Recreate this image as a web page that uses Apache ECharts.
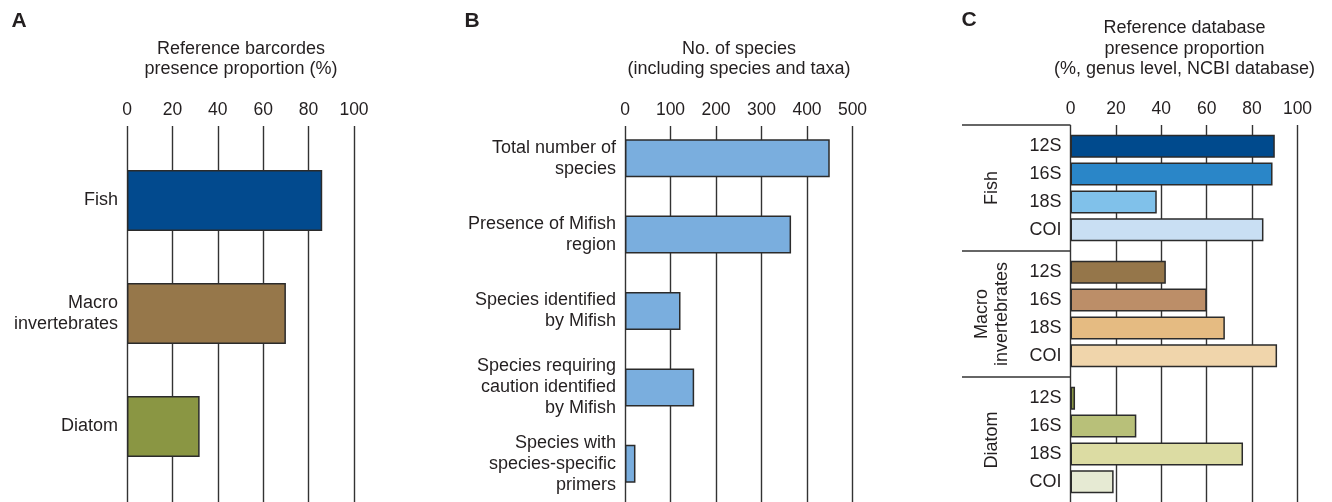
<!DOCTYPE html>
<html>
<head>
<meta charset="utf-8">
<script src="https://cdn.jsdelivr.net/npm/echarts@6/dist/echarts.min.js"></script>
<style>html,body{margin:0;padding:0;background:#fff}#c{width:1332px;height:502px}</style>
</head>
<body>
<div id="c"></div>
<script>
// ---- data ----
const ticksA = [0, 20, 40, 60, 80, 100];
const catA = ['Fish', 'Macro\ninvertebrates', 'Diatom'];
const valA = [86, 70, 32];

const ticksB = [0, 100, 200, 300, 400, 500];
const catB = ['Total number of\nspecies', 'Presence of Mifish\nregion', 'Species identified\nby Mifish',
  'Species requiring\ncaution identified\nby Mifish', 'Species with\nspecies-specific\nprimers'];
const valB = [450, 365, 122, 152, 23];

const ticksC = [0, 20, 40, 60, 80, 100];
const markersC = ['12S', '16S', '18S', 'COI'];
const groupsC = ['Fish', 'Macro\ninvertebrates', 'Diatom'];
const fishC = [90, 89, 38, 85];
const macroC = [42, 60, 68, 91];
const diatomC = [2, 29, 76, 19];

// ---- styles ----
const colorsA = ['#024a8e', '#96774a', '#8a9643'];
const colorB = '#7aaede';
const colorsC = [
  ['#004a8d', '#2a86c8', '#80c1ea', '#c9dff3'],
  ['#95764a', '#bc8e68', '#e5bb82', '#f0d5ab'],
  ['#8a9644', '#b8c079', '#dcdca3', '#e6ead3']
];
const FONT = '"Liberation Sans", Arial, sans-serif';
const TXT = '#231f20';
const LINE = '#333';
const FS = 18;
const FT = 17.5;

const grids = [];
const xAxes = [];
const yAxes = [];
const series = [];

function tickAxis(gi, ticks) {
  xAxes.push({
    gridIndex: gi, type: 'value', position: 'top',
    min: ticks[0], max: ticks[ticks.length - 1], interval: ticks[1] - ticks[0],
    axisLine: {show: false}, axisTick: {show: false},
    axisLabel: {fontSize: FT, fontFamily: FONT, color: TXT, margin: 7},
    splitLine: {show: true, lineStyle: {color: LINE, width: 1.4}}
  });
  yAxes.push({gridIndex: gi, type: 'value', show: false});
}
function barAxis(gi, ticks, cats) {
  xAxes.push({
    gridIndex: gi, type: 'value', show: false,
    min: ticks[0], max: ticks[ticks.length - 1], interval: ticks[1] - ticks[0],
    splitLine: {show: false}
  });
  yAxes.push({
    gridIndex: gi, type: 'category', data: cats, inverse: true,
    axisLine: {show: false}, axisTick: {show: false},
    axisLabel: {fontSize: FS, fontFamily: FONT, color: TXT, margin: 9, lineHeight: 21},
    splitLine: {show: false}
  });
}
function addBars(gi, vals, colors, bw) {
  series.push({
    type: 'bar', xAxisIndex: gi, yAxisIndex: gi, barWidth: bw,
    data: vals.map((v, i) => ({value: v, itemStyle: {color: Array.isArray(colors) ? colors[i] : colors}})),
    itemStyle: {borderColor: '#2b2b2b', borderWidth: 1.5},
    silent: true, animation: false
  });
}

// Panel A
grids.push({left: 127, width: 227, top: 126, bottom: 0});
tickAxis(0, ticksA);
grids.push({left: 127, width: 227, top: 144, height: 339});
barAxis(1, ticksA, catA);
addBars(1, valA, colorsA, 61);

// Panel B
grids.push({left: 625, width: 227.5, top: 126, bottom: 0});
tickAxis(2, ticksB);
grids.push({left: 625, width: 227.5, top: 120, height: 388});
barAxis(3, ticksB, catB);
addBars(3, valB, colorB, 38);

// Panel C
grids.push({left: 1070.5, width: 227, top: 125, bottom: 0});
tickAxis(4, ticksC);
const valsC = [fishC, macroC, diatomC];
const topsC = [132.4, 258.4, 384.4];
for (let g = 0; g < 3; g++) {
  const gi = 5 + g;
  grids.push({left: 1070.5, width: 227, top: topsC[g], height: 111.2});
  barAxis(gi, ticksC, markersC);
  addBars(gi, valsC[g], colorsC[g], 23);
}

const graphic = [];
function label(x, y, text, opts) {
  graphic.push(Object.assign({
    type: 'text', x: x, y: y, silent: true,
    style: Object.assign({text: text, fill: TXT, fontSize: FS, fontFamily: FONT,
      align: 'center', verticalAlign: 'middle', lineHeight: 20.5}, (opts && opts.style) || {})
  }, (opts && opts.el) || {}));
}
// panel letters
label(19, 21, 'A', {style: {fontSize: 21, fontWeight: 'bold'}});
label(472, 21, 'B', {style: {fontSize: 21, fontWeight: 'bold'}});
label(969, 20, 'C', {style: {fontSize: 21, fontWeight: 'bold'}});
// titles
label(241, 59, 'Reference barcordes\npresence proportion (%)');
label(739, 59, 'No. of species\n(including species and taxa)');
label(1184.5, 49, 'Reference database\npresence proportion\n(%, genus level, NCBI database)');
// group labels in C
const groupY = [188, 314, 440];
groupsC.forEach((g, i) => {
  label(992, groupY[i], g, {el: {rotation: Math.PI / 2}});
});
// group separators in C
[125, 251, 377].forEach(y => {
  graphic.push({type: 'line', silent: true, shape: {x1: 962, y1: y, x2: 1070.5, y2: y},
    style: {stroke: LINE, lineWidth: 1.6}});
});

const chart = echarts.init(document.getElementById('c'), null, {renderer: 'canvas'});
chart.setOption({
  animation: false,
  backgroundColor: '#fff',
  textStyle: {fontFamily: FONT},
  grid: grids, xAxis: xAxes, yAxis: yAxes, series: series, graphic: graphic
});
</script>
</body>
</html>
